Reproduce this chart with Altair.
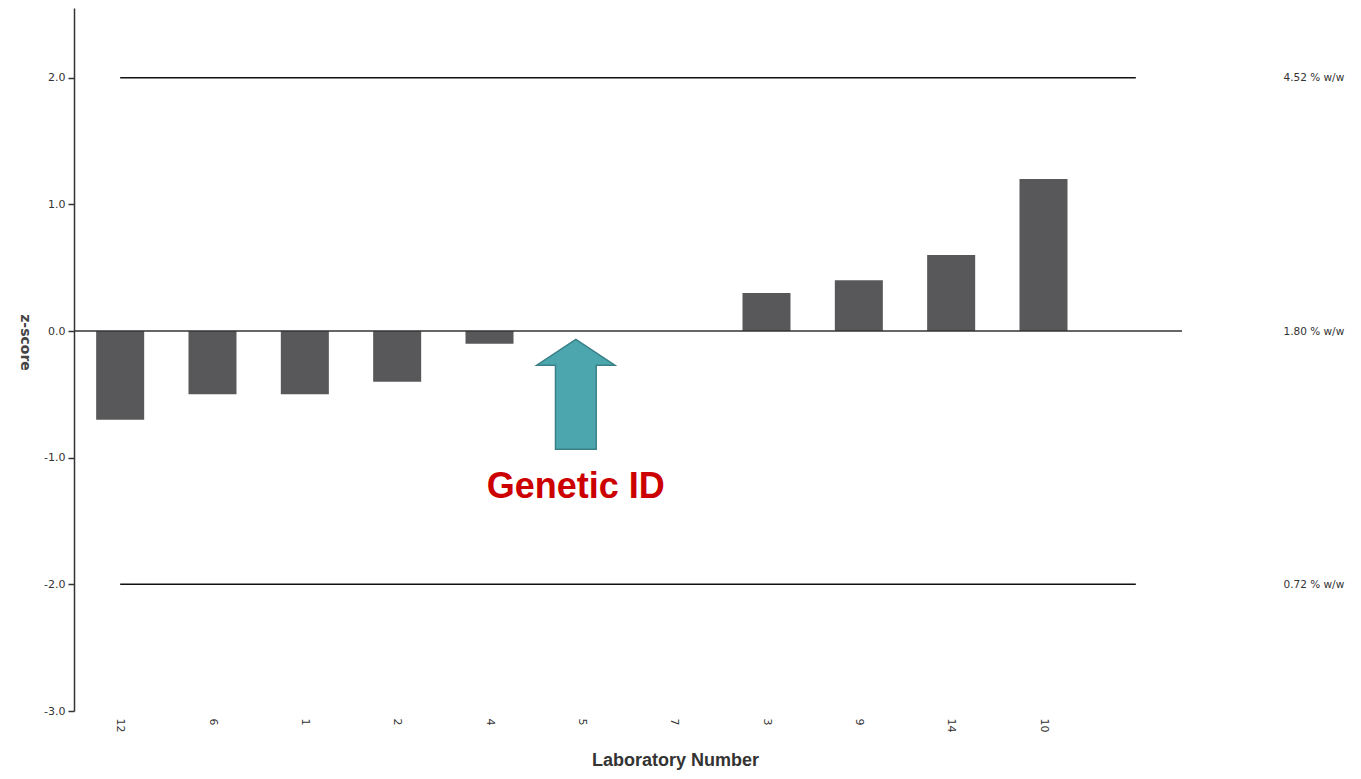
import altair as alt
import pandas as pd

# Data
labs = ["12", "6", "1", "2", "4", "5", "7", "3", "9", "14", "10"]
zscores = [-0.7, -0.5, -0.5, -0.4, -0.1, 0.0, 0.0, 0.3, 0.4, 0.6, 1.2]
x_domain = labs + [" "]          # trailing empty slot, as in the original
limit_z = [2.0, -2.0]
right_vals = [2.0, 0.0, -2.0]
right_texts = ["4.52 % w/w", "1.80 % w/w", "0.72 % w/w"]
y_ticks = [-3.0, -2.0, -1.0, 0.0, 1.0, 2.0]
annot_lab = ["5"]
annot_arrow_z = [-0.5]
annot_text_z = [-1.23]
annot_text = ["Genetic ID"]

bars_df = pd.DataFrame({"lab": labs, "z": zscores})
limits_df = pd.DataFrame({"z": limit_z, "x1": [labs[0]] * 2, "x2": [x_domain[-1]] * 2})
zero_df = pd.DataFrame({"z": [0.0]})
arrow_df = pd.DataFrame({"lab": annot_lab, "z": annot_arrow_z})
text_df = pd.DataFrame({"lab": annot_lab, "z": annot_text_z, "t": annot_text})

label_expr = " : ".join(
    f"datum.value == {v} ? '{t}'" for v, t in zip(right_vals[:-1], right_texts[:-1])
) + f" : '{right_texts[-1]}'"

FONT = "DejaVu Sans"

xscale = alt.Scale(domain=x_domain, paddingInner=0.48, paddingOuter=0.24)
yscale = alt.Scale(domain=[-3.0, 2.55], nice=False, zero=False)

x_enc = alt.X(
    "lab:N", scale=xscale, sort=x_domain,
    axis=alt.Axis(
        title="Laboratory Number", labelAngle=90, domain=False, ticks=False,
        labelPadding=7, labelFont=FONT, labelFontSize=11, labelColor="#333333",
        titleFont="Liberation Sans", titleFontSize=18, titleFontWeight="bold",
        titleColor="#333333", titleX=601, titleY=54, titleBaseline="alphabetic",
        titleAnchor="start", titleAlign="center",
    ),
)

bars = alt.Chart(bars_df).mark_bar(color="#58585a").encode(
    x=x_enc,
    y=alt.Y(
        "z:Q", scale=yscale,
        axis=alt.Axis(
            title="z-score", values=y_ticks, format=".1f", grid=False,
            labelExpr="replace(datum.label, '\u2212', '-')",
            labelFont=FONT, labelFontSize=11, labelColor="#333333", labelPadding=3,
            tickSize=6, tickColor="#333333", domainColor="#333333", domainWidth=1.5,
            tickWidth=1.5, titleAngle=90, titleX=-57, titleY=334,
            titleFont=FONT, titleFontSize=14, titleFontWeight="bold", titleColor="#444444",
        ),
    ),
)

limits = alt.Chart(limits_df).mark_rule(color="#111111", strokeWidth=1.5).encode(
    x=alt.X("x1:N", scale=xscale, sort=x_domain),
    x2="x2:N",
    y=alt.Y(
        "z:Q", scale=yscale,
        axis=alt.Axis(
            orient="right", title=None, values=right_vals, labelExpr=label_expr,
            domain=False, ticks=False, grid=False, labelPadding=101, labelAlign="left",
            labelFont=FONT, labelFontSize=10.5, labelColor="#333333",
        ),
    ),
)

zero = alt.Chart(zero_df).mark_rule(color="#333333", strokeWidth=1.5).encode(
    y=alt.Y("z:Q", scale=yscale, axis=None)
)

arrow_path = "M0,-1 L0.71,-0.53 L0.37,-0.53 L0.37,1 L-0.37,1 L-0.37,-0.53 L-0.71,-0.53 Z"
arrow = alt.Chart(arrow_df).mark_point(
    shape=arrow_path, size=12100, filled=True, fill="#4ba6ad", stroke="#3a8088",
    strokeWidth=1.5, opacity=1, xOffset=-6,
).encode(
    x=alt.X("lab:N", scale=xscale, sort=x_domain),
    y=alt.Y("z:Q", scale=yscale, axis=None),
)

label = alt.Chart(text_df).mark_text(
    font="Liberation Sans", fontSize=36, fontWeight="bold", color="#cc0000",
    baseline="middle", align="center", xOffset=-6,
).encode(
    x=alt.X("lab:N", scale=xscale, sort=x_domain),
    y=alt.Y("z:Q", scale=yscale, axis=None),
    text="t:N",
)

chart = alt.layer(bars, limits, zero, arrow, label).resolve_axis(
    y="independent"
).resolve_scale(y="shared", x="shared").properties(
    width=1108, height=703,
    background="white",
    autosize=alt.AutoSizeParams(type="none"),
    padding={"left": 66, "top": 0, "right": 171, "bottom": 60},
).configure_view(strokeWidth=0, stroke=None)

chart.save("out.html", embed_options={"renderer": "svg", "actions": False})
